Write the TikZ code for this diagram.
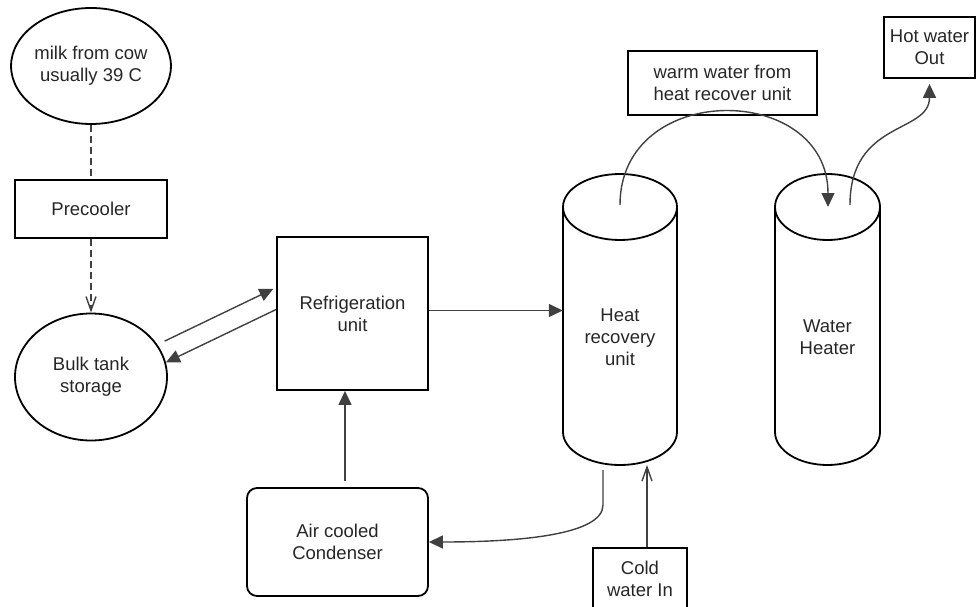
\documentclass[tikz,border=0pt]{standalone}
\usepackage{fontspec}
\setmainfont{Liberation Sans}
\usetikzlibrary{arrows.meta, positioning, shapes.geometric}

\begin{document}
\begin{tikzpicture}[x=1pt, y=-1pt,
    every node/.style={font=\fontsize{18.5}{22}\selectfont, text=black!85, align=center},
    box/.style={draw, line width=1.8pt, inner sep=0pt},
    oval/.style={ellipse, draw, line width=1.8pt, inner sep=0pt},
    conn/.style={draw=black!75, line width=1.4pt},
    tip/.style={-{Triangle[length=14pt, width=13pt]}},
    vtip/.style={-{Straight Barb[length=14pt, width=10pt]}}
]
\useasboundingbox (0,0) rectangle (977,607);
\clip (0,0) rectangle (977,607);

            \node[oval, minimum width=152pt, minimum height=116pt] (milk) at (91,66) {milk from cow\\usually 39 C};
            \node[box, minimum width=152pt, minimum height=58pt] (precool) at (91,209) {Precooler};
            \node[oval, minimum width=152pt, minimum height=127pt] (bulk) at (91,377) {Bulk tank\\storage};
            \node[box, minimum width=151pt, minimum height=153pt] (refrig) at (352.5,313.5) {Refrigeration\\unit};
            \node[box, rounded corners=10pt, minimum width=181pt, minimum height=108pt] (cond) at (337.5,542) {Air cooled\\Condenser};
            \node[box, minimum width=189pt, minimum height=64pt] (warm) at (722.5,83) {warm water from\\heat recover unit};
            \node[box, minimum width=91pt, minimum height=61pt] (hot) at (929.5,47.5) {Hot water\\Out};
            \node[box, minimum width=94pt, minimum height=62pt] (cold) at (640,579) {Cold\\water In};

            % heat recovery unit
            \draw[line width=1.8pt] (563,207) -- (563,432) arc[start angle=180, end angle=0, x radius=57, y radius=33] -- (677,207);
            \draw[line width=1.8pt] (620,207) ellipse[x radius=57, y radius=33];
            \node[minimum width=114pt, minimum height=190pt] (hru) at (620,337) {Heat\\recovery\\unit};

            % water heater
            \draw[line width=1.8pt] (775,207) -- (775,432) arc[start angle=180, end angle=0, x radius=52.5, y radius=33] -- (880,207);
            \draw[line width=1.8pt] (827.5,207) ellipse[x radius=52.5, y radius=33];
            \node[minimum width=105pt, minimum height=190pt] (wh) at (827.5,337) {Water\\Heater};

            \coordinate (hruout) at (620,205);
            \coordinate (whin) at (828,207);
            \coordinate (whout) at (850,205);
            \coordinate (hrubot) at (603,470);
            \coordinate (coldin) at (647,465);

            \draw[conn, dash pattern=on 7pt off 4pt] (milk) -- (precool);
            \draw[conn, vtip, dash pattern=on 7pt off 4pt] (precool) -- (bulk);

            \draw[conn, tip, shorten <=8pt, shorten >=3pt] (bulk.26) -- ([yshift=26pt]refrig.west);
            \draw[conn, tip] ([yshift=4pt]refrig.west) -- (bulk.11);
            \draw[conn, tip] ([yshift=3pt]refrig.east) -- ([yshift=3pt]refrig.east -| hru.west);
            \draw[conn, tip] ([xshift=7.5pt,yshift=6pt]cond.north) -- ([xshift=-7.5pt]refrig.south);

            \draw[conn, tip] (hrubot) -- ++(0,35) .. controls +(0,30) and +(90,0) .. (cond.east);
            \draw[conn, vtip] ([xshift=7pt]cold.north) -- (coldin);

            \draw[conn, tip] (hruout) .. controls +(0,-125) and +(0,-125) .. (whin);
            \draw[conn, tip] (whout) .. controls +(0,-85) and +(0,50) .. ([yshift=-5pt]hot.south);
        \end{tikzpicture}
\end{document}
